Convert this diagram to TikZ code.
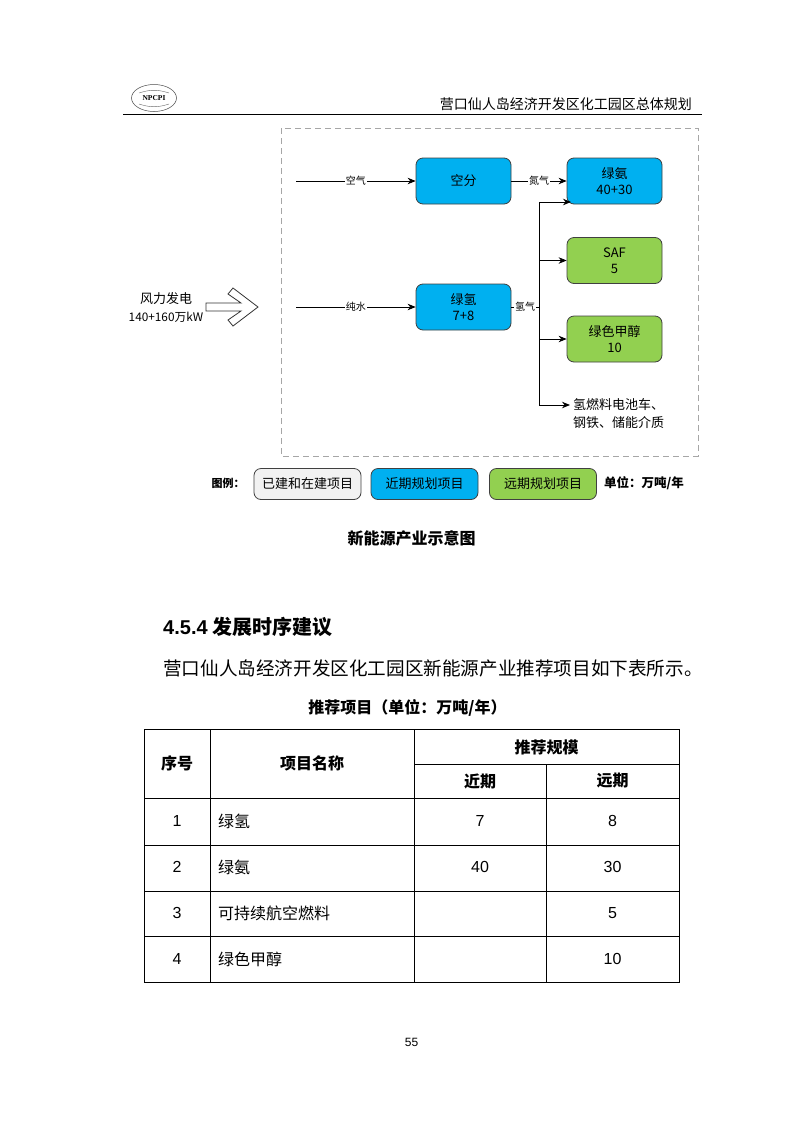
\documentclass[tikz,border=0pt]{standalone}
\usepackage{fontspec}
\setmainfont{Noto Sans CJK SC}
\newfontfamily\latin{Liberation Sans}
\newfontfamily\logofont{Liberation Serif}
\usetikzlibrary{shapes.geometric,arrows.meta}
\definecolor{nearblue}{HTML}{00B0F0}
\definecolor{fargreen}{HTML}{92D050}
\definecolor{builtgray}{HTML}{F2F2F2}
\definecolor{dashgray}{HTML}{A6A6A6}
\newcommand{\wcolon}{\char"FF1A\relax}
\newcommand{\wopen}{\char"FF08\relax}
\newcommand{\wclose}{\char"FF09\relax}

\begin{document}
\begin{tikzpicture}[x=1pt,y=-1pt,>={Stealth[length=8pt,width=6.5pt]},
    project/.style={draw=black!75,rounded corners=7pt,line width=0.8pt,minimum width=95pt,minimum height=46pt,inner sep=0pt,align=center,font=\fontsize{13}{16}\selectfont},
    near/.style={project,fill=nearblue},
    far/.style={project,fill=fargreen},
    legend/.style={draw=black!75,rounded corners=7pt,line width=0.8pt,minimum width=107pt,minimum height=31pt,inner sep=0pt,font=\fontsize{13}{15}\selectfont},
    flow/.style={->,line width=0.7pt},
    flow label/.style={fill=white,inner sep=1pt,font=\fontsize{10}{11}\selectfont},
    cell/.style={inner sep=0pt,font=\fontsize{16}{18}\selectfont},
    head cell/.style={cell,font=\fontsize{16}{18}\selectfont\bfseries},
    plain/.style={inner sep=0pt}]
    \useasboundingbox[fill=white] (0,0) rectangle (793,1122);

    % page header
    \node[ellipse,draw=black!70,line width=0.5pt,minimum width=45pt,minimum height=27pt,inner sep=0pt,font=\logofont\fontsize{7.5}{8}\selectfont\bfseries] (logo) at (154,98) {NPCPI};
    \draw[black!60,line width=0.4pt] (139,93) to[bend left=18] (169,93) (139,104) to[bend right=18] (169,104);
    \node[plain,anchor=east,font=\fontsize{14}{18}\selectfont] (header) at (692,104) {营口仙人岛经济开发区化工园区总体规划};
    \draw[line width=1.3pt] (123,114.5) -- (702,114.5);

    % figure
    \draw[dashgray,line width=1pt,dash pattern=on 6pt off 4pt] (281,128) rectangle (698,456);
    \node[near] (sep) at (463.5,181) {空分};
    \node[near] (ammonia) at (614.5,181) {绿氨\\40+30};
    \node[far] (saf) at (614.5,260.5) {SAF\\5};
    \node[far] (methanol) at (614.5,339) {绿色甲醇\\10};
    \node[near] (hydrogen) at (463.5,307) {绿氢\\7+8};
    \node[plain,align=left,anchor=west,font=\fontsize{13}{18}\selectfont] (uses) at (573,414) {氢燃料电池车、\\钢铁、储能介质};
    \node[plain,align=center,font=\fontsize{13}{18}\selectfont] (wind) at (166,307) {风力发电\\{\fontsize{11.8}{18}\selectfont 140+160万kW}};
    \draw[black!80,line width=0.8pt,fill=white] (206,303) -- (241,303) -- (228,294) -- (233,288) -- (258,307) -- (233,326) -- (228,320) -- (241,311) -- (206,311) -- cycle;

    \coordinate (air) at (296,181);
    \coordinate (water) at (296,307);
    \coordinate (bus) at (539,307);
    \coordinate (bustop) at (539,202);
    \coordinate (busend) at (539,405);
    \coordinate (topin) at (571,202);
    \coordinate (safbus) at (539,260.5);
    \coordinate (methbus) at (539,339);
    \coordinate (usein) at (570,405);

    \path[flow]
        (air) edge node[flow label] {空气} (sep)
        (sep) edge node[flow label] {氮气} (ammonia)
        (water) edge node[flow label] {纯水} (hydrogen)
        (safbus) edge (saf)
        (methbus) edge (methanol)
        ;
    \draw[line width=1pt] (bustop) -- (busend);
    \draw[line width=0.7pt] (hydrogen) -- node[flow label] {氢气} (bus);
    \draw[flow,line width=1pt] (bustop) -- (topin);
    \draw[flow,line width=1pt] (busend) -- (usein);

    % legend
    \node[plain,font=\fontsize{11}{13}\selectfont\bfseries] (legendhead) at (228,483.5) {图例\wcolon};
    \node[legend,fill=builtgray] (built) at (307.5,484) {已建和在建项目};
    \node[legend,fill=nearblue] (nearterm) at (424.5,484) {近期规划项目};
    \node[legend,fill=fargreen] (farterm) at (543,484) {远期规划项目};
    \node[plain,font=\fontsize{12.5}{13}\selectfont\bfseries] (unit) at (644,483.5) {单位\wcolon 万吨/年};

    % text
    \node[plain,font=\fontsize{16}{18}\selectfont\bfseries] (caption) at (411.5,538) {新能源产业示意图};
    \node[plain,anchor=west,font=\fontsize{20}{22}\selectfont\bfseries] (section) at (163,627) {{\latin 4.5.4} 发展时序建议};
    \node[plain,anchor=west,font=\fontsize{18.6}{22}\selectfont] (intro) at (163,668) {营口仙人岛经济开发区化工园区新能源产业推荐项目如下表所示。};
    \node[plain,font=\fontsize{16}{18}\selectfont\bfseries] (tabletitle) at (407.5,708) {推荐项目\wopen 单位\wcolon 万吨/年\wclose};

    % table
    \draw[line width=1pt] (144,729) rectangle (679,982);
    \draw[line width=0.8pt] (210,729) -- (210,982) (414,729) -- (414,982) (546,764) -- (546,982)
        (414,764) -- (679,764) (144,798) -- (679,798) (144,845) -- (679,845) (144,891) -- (679,891) (144,936) -- (679,936);
    \node[head cell] (numhead) at (177,763) {序号};
    \node[head cell] (namehead) at (312,763) {项目名称};
    \node[head cell] (scalehead) at (546.5,747) {推荐规模};
    \node[head cell] (nearhead) at (480,781) {近期};
    \node[head cell] (farhead) at (612.5,781) {远期};
    \foreach \row/\y/\name/\near/\far in {1/821/绿氢/7/8,2/867/绿氨/40/30,3/913/可持续航空燃料//5,4/959/绿色甲醇//10}{
        \node[cell,font=\latin\fontsize{16}{18}\selectfont] (num\row) at (177,\y) {\row};
        \node[cell,anchor=west] (name\row) at (218,\y) {\name};
        \node[cell,font=\latin\fontsize{16}{18}\selectfont] (near\row) at (480,\y) {\near};
        \node[cell,font=\latin\fontsize{16}{18}\selectfont] (far\row) at (612.5,\y) {\far};
    }
    \node[plain,font=\latin\fontsize{12}{14}\selectfont] (page) at (411.5,1042) {55};
\end{tikzpicture}
\end{document}
